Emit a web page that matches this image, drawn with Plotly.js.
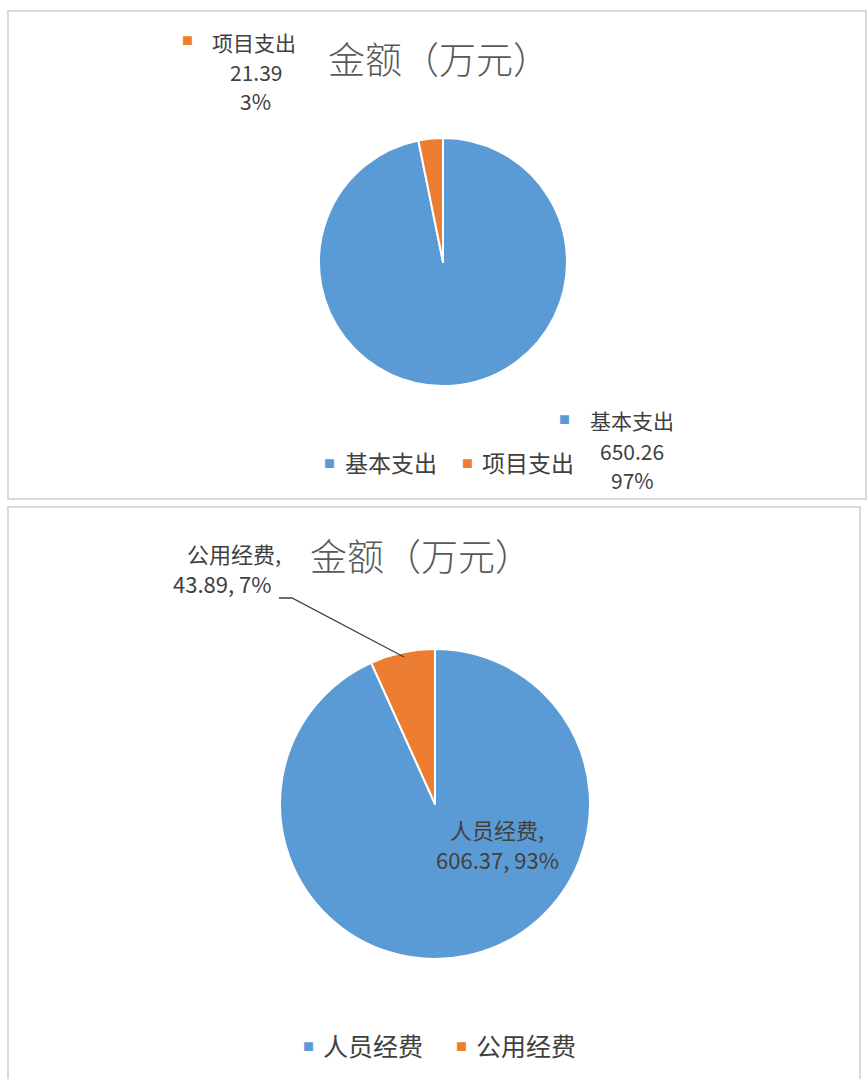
<!DOCTYPE html>
<html>
<head>
<meta charset="utf-8">
<script src="https://cdn.plot.ly/plotly-3.0.1.min.js"></script>
<style>html,body{margin:0;padding:0;background:#fff;}#chart{width:867px;height:1079px;}</style>
</head>
<body>
<div id="chart"></div>
<script>
// ---- data ----
const titleText = '金额（万元）';
const cats1 = ['基本支出', '项目支出'];
const vals1 = [650.26, 21.39];
const cats2 = ['人员经费', '公用经费'];
const vals2 = [606.37, 43.89];

// ---- style ----
const W = 867, H = 1079;
const BLUE = '#5B9BD5', ORANGE = '#ED7D31';
const COLORS = [BLUE, ORANGE];
const FONT = '"Noto Sans CJK SC", "Microsoft YaHei", sans-serif';
const TXT = '#404040';
const px = x => x / W;
const py = y => 1 - y / H;

function pct(vals, i) {
  const s = vals.reduce((a, b) => a + b, 0);
  return Math.round(vals[i] / s * 100) + '%';
}

const pie1 = {
  type: 'pie', labels: cats1, values: vals1, sort: false, direction: 'clockwise', rotation: 0,
  marker: {colors: COLORS, line: {color: '#ffffff', width: 2}},
  textinfo: 'none', hoverinfo: 'label+value+percent',
  domain: {x: [px(319), px(567)], y: [py(386), py(138)]},
  showlegend: false
};
const pie2 = {
  type: 'pie', labels: cats2, values: vals2, sort: false, direction: 'clockwise', rotation: 0,
  marker: {colors: COLORS, line: {color: '#ffffff', width: 2}},
  textinfo: 'none', hoverinfo: 'label+value+percent',
  domain: {x: [px(280), px(590)], y: [py(959), py(649)]},
  showlegend: false
};

const mk = (c, x, y) => ({text: '■', x: px(x), y: py(y), font: {size: 11, color: c}});
const lab = (t, x, y, s, extra) => Object.assign({text: t, x: px(x), y: py(y), font: {size: s, color: TXT}}, extra || {});

const annotations = [
  {text: titleText, x: px(439), y: py(58), font: {size: 37, color: '#595959', weight: 300}},
  {text: titleText, x: px(421), y: py(555), font: {size: 37, color: '#595959', weight: 300}},
  // pie 1 data labels
  mk(COLORS[1], 187, 40),
  lab(cats1[1], 254, 42, 21),
  lab(vals1[1].toFixed(2), 256, 72, 21),
  lab(pct(vals1, 1), 255, 101, 21),
  mk(COLORS[0], 564, 419),
  lab(cats1[0], 632, 420, 21),
  lab(vals1[0].toFixed(2), 632, 451, 21),
  lab(pct(vals1, 0), 632, 480, 21),
  // pie 1 legend
  mk(COLORS[0], 329, 463),
  lab(cats1[0], 343, 462, 23, {xanchor: 'left'}),
  mk(COLORS[1], 467, 463),
  lab(cats1[1], 480, 462, 23, {xanchor: 'left'}),
  // pie 2 data labels
  lab(cats2[1] + ',', 234, 553, 22),
  lab(vals2[1].toFixed(2) + ', ' + pct(vals2, 1), 222, 583, 22),
  lab(cats2[0] + ',', 497, 829, 22),
  lab(vals2[0].toFixed(2) + ', ' + pct(vals2, 0), 497, 859, 22),
  // pie 2 legend
  mk(COLORS[0], 308, 1046),
  lab(cats2[0], 321, 1045, 25, {xanchor: 'left'}),
  mk(COLORS[1], 461, 1046),
  lab(cats2[1], 474, 1045, 25, {xanchor: 'left'})
].map(a => Object.assign({xref: 'paper', yref: 'paper', showarrow: false, xanchor: 'center', yanchor: 'middle', align: 'center'}, a));

const shapes = [
  {type: 'rect', xref: 'paper', yref: 'paper', x0: px(8), x1: px(866), y0: py(499), y1: py(11),
   line: {color: '#D9D9D9', width: 2}},
  {type: 'rect', xref: 'paper', yref: 'paper', x0: px(8), x1: px(860), y0: py(1090), y1: py(507),
   line: {color: '#D9D9D9', width: 2}},
  {type: 'path', xref: 'paper', yref: 'paper',
   path: 'M' + px(279) + ',' + py(598) + ' L' + px(292) + ',' + py(598) + ' L' + px(404) + ',' + py(657),
   line: {color: '#404040', width: 1.3}}
];

const layout = {
  width: W, height: H,
  margin: {l: 0, r: 0, t: 0, b: 0},
  paper_bgcolor: '#ffffff',
  font: {family: FONT, color: TXT},
  showlegend: false,
  annotations: annotations,
  shapes: shapes
};

Plotly.newPlot('chart', [pie1, pie2], layout, {displayModeBar: false, staticPlot: true});
</script>
</body>
</html>
